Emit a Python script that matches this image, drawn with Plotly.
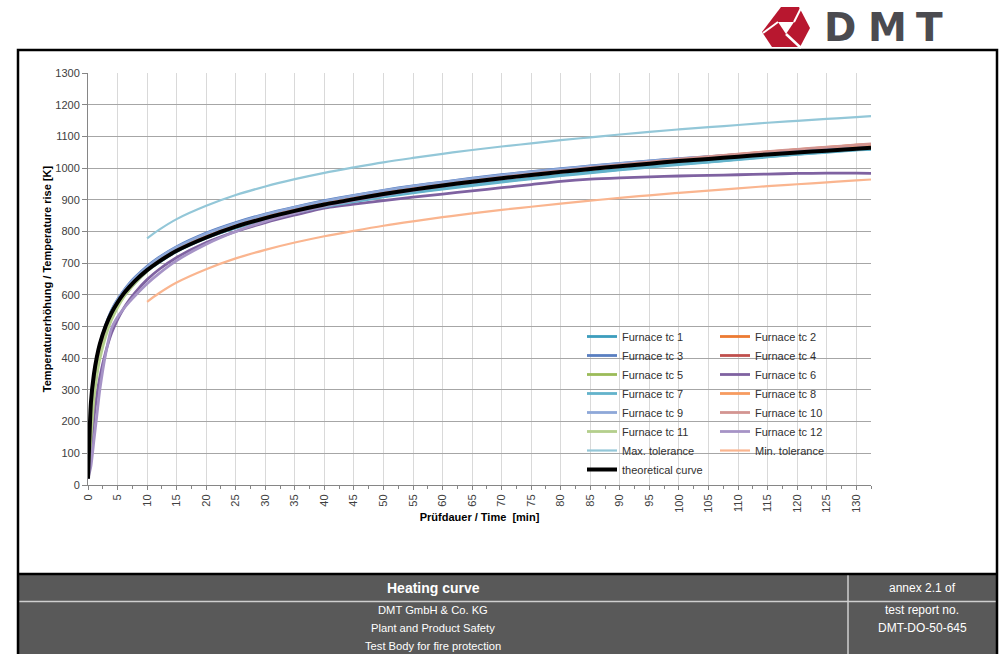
import plotly.graph_objects as go

# ---------------- data ----------------
time_min = [0, 0.5, 1, 1.5, 2, 3, 4, 5, 6, 7, 8, 10, 12, 15, 20, 25, 30, 35, 40, 45, 50,
            55, 60, 65, 70, 75, 80, 85, 90, 95, 100, 105, 110, 115, 120, 125, 130, 132.5]

theoretical = [20, 261, 349, 404, 445, 502, 544, 576, 603, 625, 645, 678, 705, 739, 781, 815, 842,
               865, 885, 902, 918, 932, 945, 957, 968, 978, 988, 997, 1006, 1014, 1022, 1029,
               1036, 1043, 1049, 1055, 1061, 1064]

tc1 = [25, 190, 300, 370, 420, 488, 535, 568, 596, 618, 640, 676, 703, 738, 780, 812, 838, 860, 880,
       896, 911, 924, 936, 947, 958, 968, 978, 987, 996, 1005, 1013, 1020, 1028, 1036, 1044, 1051, 1058, 1060]
tc2 = [24, 210, 320, 385, 430, 492, 538, 572, 600, 622, 644, 680, 708, 742, 784, 818, 845, 868, 888,
       905, 921, 935, 948, 960, 971, 981, 991, 1001, 1010, 1019, 1027, 1035, 1043, 1051, 1058, 1065, 1072, 1075]
tc3 = [26, 230, 340, 400, 445, 505, 552, 585, 612, 636, 656, 690, 718, 752, 795, 828, 855, 877, 897,
       914, 930, 944, 956, 968, 979, 989, 998, 1007, 1015, 1023, 1030, 1036, 1042, 1048, 1053, 1059, 1064, 1066]
tc4 = [23, 200, 310, 378, 425, 488, 534, 568, 597, 620, 641, 677, 705, 740, 782, 816, 843, 866, 886,
       903, 919, 933, 946, 958, 970, 980, 990, 999, 1008, 1017, 1025, 1033, 1041, 1048, 1055, 1062, 1069, 1072]
tc5 = [22, 170, 290, 362, 412, 480, 530, 566, 597, 621, 643, 679, 707, 741, 783, 816, 843, 866, 886,
       903, 918, 932, 945, 957, 968, 978, 988, 997, 1006, 1014, 1022, 1029, 1036, 1043, 1050, 1056, 1062, 1064]
tc6 = [20, 110, 210, 285, 340, 420, 480, 522, 556, 584, 608, 648, 680, 718, 765, 800, 828, 852, 874,
       886, 897, 908, 918, 928, 938, 948, 958, 965, 969, 972, 975, 977, 979, 981, 983, 984, 984, 983]
tc7 = [24, 185, 295, 365, 415, 485, 532, 566, 595, 618, 639, 675, 702, 737, 779, 811, 837, 859, 878,
       894, 909, 922, 934, 945, 956, 966, 976, 985, 994, 1003, 1011, 1019, 1027, 1035, 1043, 1050, 1057, 1059]
tc8 = [23, 205, 315, 380, 428, 490, 536, 570, 599, 622, 643, 679, 707, 741, 783, 817, 844, 867, 887,
       904, 920, 934, 947, 959, 970, 980, 990, 1000, 1009, 1018, 1026, 1034, 1042, 1050, 1057, 1064, 1071, 1074]
tc9 = [27, 225, 335, 395, 440, 503, 550, 584, 611, 634, 654, 688, 716, 750, 793, 826, 853, 876, 896,
       913, 929, 943, 955, 967, 978, 988, 997, 1006, 1014, 1022, 1029, 1035, 1041, 1047, 1052, 1057, 1062, 1064]
tc10 = [22, 195, 305, 375, 422, 486, 533, 568, 597, 620, 642, 678, 706, 741, 783, 817, 844, 867, 887,
        904, 920, 934, 947, 959, 971, 981, 991, 1001, 1010, 1019, 1028, 1036, 1044, 1052, 1059, 1066, 1073, 1076]
tc11 = [21, 150, 270, 345, 398, 470, 522, 560, 592, 616, 638, 675, 704, 739, 781, 815, 842, 865, 885,
        902, 917, 931, 944, 956, 967, 977, 987, 996, 1005, 1013, 1021, 1029, 1036, 1043, 1050, 1056, 1062, 1064]
tc12 = [20, 60, 140, 220, 300, 415, 495, 530, 556, 578, 598, 635, 667, 708, 760, 800, 832, 858, 880,
        898, 915, 930, 943, 955, 966, 977, 987, 996, 1005, 1013, 1021, 1029, 1036, 1044, 1051, 1057, 1063, 1065]

tol_time = [10, 12, 15, 20, 25, 30, 35, 40, 45, 50, 55, 60, 65, 70, 75, 80, 85, 90, 95, 100,
            105, 110, 115, 120, 125, 130, 132.5]
max_tol = [778, 805, 839, 881, 915, 942, 965, 985, 1002, 1018, 1032, 1045, 1057, 1068, 1078, 1088,
           1097, 1106, 1114, 1122, 1129, 1136, 1143, 1149, 1155, 1161, 1164]
min_tol = [578, 605, 639, 681, 715, 742, 765, 785, 802, 818, 832, 845, 857, 868, 878, 888,
           897, 906, 914, 922, 929, 936, 943, 949, 955, 961, 964]

furnace_names = ["Furnace tc %d" % i for i in range(1, 13)]
furnace_series = [tc1, tc2, tc3, tc4, tc5, tc6, tc7, tc8, tc9, tc10, tc11, tc12]
furnace_colors = ["#3d9dbd", "#ec7b33", "#5a7fc1", "#c0504d", "#9bbb59", "#7f62a1",
                  "#63b3cb", "#f79b60", "#8ea8d8", "#d39591", "#b4cf8c", "#a693c6"]

# ---------------- figure ----------------
W, H = 1002, 654
L, R, T, B = 88, 131, 73, 169
PW, PH = W - L - R, H - T - B


def px(X):  # X in page pixels
    return (X - L) / PW


def py(Y):  # Y in page pixels
    return (T + PH - Y) / PH


fig = go.Figure()
for i, (name, ys, col) in enumerate(zip(furnace_names, furnace_series, furnace_colors)):
    fig.add_trace(go.Scatter(x=time_min, y=ys, name=name, mode="lines",
                             line=dict(color=col, width=2.8, shape="spline", smoothing=0.6),
                             legend="legend" if i % 2 == 0 else "legend2"))
fig.add_trace(go.Scatter(x=tol_time, y=max_tol, name="Max. tolerance", mode="lines",
                         line=dict(color="#93c7d8", width=2.2, shape="spline"), legend="legend"))
fig.add_trace(go.Scatter(x=tol_time, y=min_tol, name="Min. tolerance", mode="lines",
                         line=dict(color="#fab58f", width=2.2, shape="spline"), legend="legend2"))
fig.add_trace(go.Scatter(x=time_min, y=theoretical, name="theoretical curve", mode="lines",
                         line=dict(color="#000000", width=4, shape="spline", smoothing=0.6),
                         legend="legend"))

font_main = "Liberation Sans, Arial, sans-serif"
legend_common = dict(font=dict(family=font_main, size=11, color="#303030"),
                     bgcolor="rgba(0,0,0,0)", yanchor="top", xanchor="left",
                     orientation="v", tracegroupgap=0, itemwidth=30)
fig.update_layout(
    width=W, height=H,
    margin=dict(l=L, r=R, t=T, b=B),
    paper_bgcolor="white", plot_bgcolor="white",
    font=dict(family=font_main, size=11, color="#404040"),
    showlegend=True,
    legend=dict(x=px(582), y=py(322), **legend_common),
    legend2=dict(x=px(715), y=py(322), **legend_common),
    xaxis=dict(range=[0, 132.5], tick0=0, dtick=5, tickangle=-90,
               showgrid=True, gridcolor="#d9d9d9", gridwidth=1, zeroline=False,
               showline=True, linecolor="#868686", linewidth=1,
               ticks="outside", ticklen=4, tickcolor="#868686",
               minor=dict(dtick=2.5, ticks="outside", ticklen=3, tickcolor="#868686", showgrid=False),
               tickfont=dict(size=11, color="#404040"),
               title=dict(text="<b>Prüfdauer / Time  [min]</b>", standoff=1,
                          font=dict(size=11, color="#000000"))),
    yaxis=dict(range=[0, 1300], tick0=0, dtick=100,
               showgrid=True, gridcolor="#a6a6a6", gridwidth=1, zeroline=False,
               showline=True, linecolor="#868686", linewidth=1,
               ticks="outside", ticklen=5, tickcolor="#868686",
               tickfont=dict(size=11, color="#404040"),
               title=dict(text="<b>Temperaturerhöhung / Temperature rise [K]</b>", standoff=1,
                          font=dict(size=11, color="#000000"))),
)

shapes = []
# white box behind the legend hiding the grid
shapes.append(dict(type="rect", xref="paper", yref="paper", x0=px(585), x1=px(852), y0=py(480), y1=py(329),
                   fillcolor="white", line=dict(width=0), layer="between"))
# bottom info table
shapes.append(dict(type="rect", xref="paper", yref="paper", x0=px(18), x1=px(997), y0=py(660), y1=py(574),
                   fillcolor="#595959", line=dict(width=0), layer="above"))
shapes.append(dict(type="line", xref="paper", yref="paper", x0=px(18), x1=px(997), y0=py(601.5), y1=py(601.5),
                   line=dict(color="#cfcfcf", width=1.5), layer="above"))
shapes.append(dict(type="line", xref="paper", yref="paper", x0=px(848), x1=px(848), y0=py(575), y1=py(660),
                   line=dict(color="#cfcfcf", width=1.5), layer="above"))
shapes.append(dict(type="line", xref="paper", yref="paper", x0=px(18), x1=px(997), y0=py(574), y1=py(574),
                   line=dict(color="#000000", width=2.5), layer="above"))
# page frame
shapes.append(dict(type="rect", xref="paper", yref="paper", x0=px(18), x1=px(997), y0=py(662), y1=py(50),
                   fillcolor="rgba(0,0,0,0)", line=dict(color="#000000", width=2.5), layer="above"))

# logo mark (approximation of the red cube symbol)
logo_red = "#b8172f"


def path_px(points):
    s = ""
    for k, (X, Y) in enumerate(points):
        s += ("M" if k == 0 else "L") + "%.5f,%.5f " % (px(X), py(Y))
    return s + "Z"


shapes.append(dict(type="path", xref="paper", yref="paper", layer="above",
                   path=path_px([(762, 32), (781, 7), (799, 7), (810, 28), (800, 47), (772, 47)]),
                   fillcolor=logo_red, line=dict(width=0)))
shapes.append(dict(type="path", xref="paper", yref="paper", layer="above",
                   path=path_px([(778, 22), (794, 22), (786, 34)]),
                   fillcolor="white", line=dict(width=0)))
shapes.append(dict(type="line", xref="paper", yref="paper", layer="above",
                   x0=px(786), y0=py(34), x1=px(801), y1=py(48),
                   line=dict(color="white", width=2.5)))
shapes.append(dict(type="line", xref="paper", yref="paper", layer="above",
                   x0=px(794), y0=py(22), x1=px(801), y1=py(8),
                   line=dict(color="white", width=2)))
shapes.append(dict(type="line", xref="paper", yref="paper", layer="above",
                   x0=px(778), y0=py(22), x1=px(763), y1=py(33),
                   line=dict(color="white", width=2)))
fig.update_layout(shapes=shapes)

ann = []


def add_text(text, X, Y, size, color="white", bold=False, family=font_main):
    ann.append(dict(text=("<b>%s</b>" % text) if bold else text, x=px(X), y=py(Y), xref="paper", yref="paper",
                    xanchor="center", yanchor="middle", showarrow=False,
                    font=dict(family=family, size=size, color=color)))


add_text("Heating curve", 433, 588, 14, bold=True)
add_text("DMT GmbH &amp; Co. KG", 433, 610, 11.2)
add_text("Plant and Product Safety", 433, 628, 11.2)
add_text("Test Body for fire protection", 433, 646, 11.2)
add_text("annex 2.1 of", 922, 588, 12)
add_text("test report no.", 922, 610, 12)
add_text("DMT-DO-50-645", 922, 628, 12)
logo_grey = "#4b4b50"
add_text("D", 840, 27, 39, color=logo_grey, bold=True, family="DejaVu Sans, sans-serif")
add_text("M", 887, 27, 39, color=logo_grey, bold=True, family="DejaVu Sans, sans-serif")
add_text("T", 929, 27, 39, color=logo_grey, bold=True, family="DejaVu Sans, sans-serif")
fig.update_layout(annotations=ann)

fig.write_html("out.html", config={"displayModeBar": False},
               post_script="document.body.style.margin='0';document.body.style.overflow='hidden';")
